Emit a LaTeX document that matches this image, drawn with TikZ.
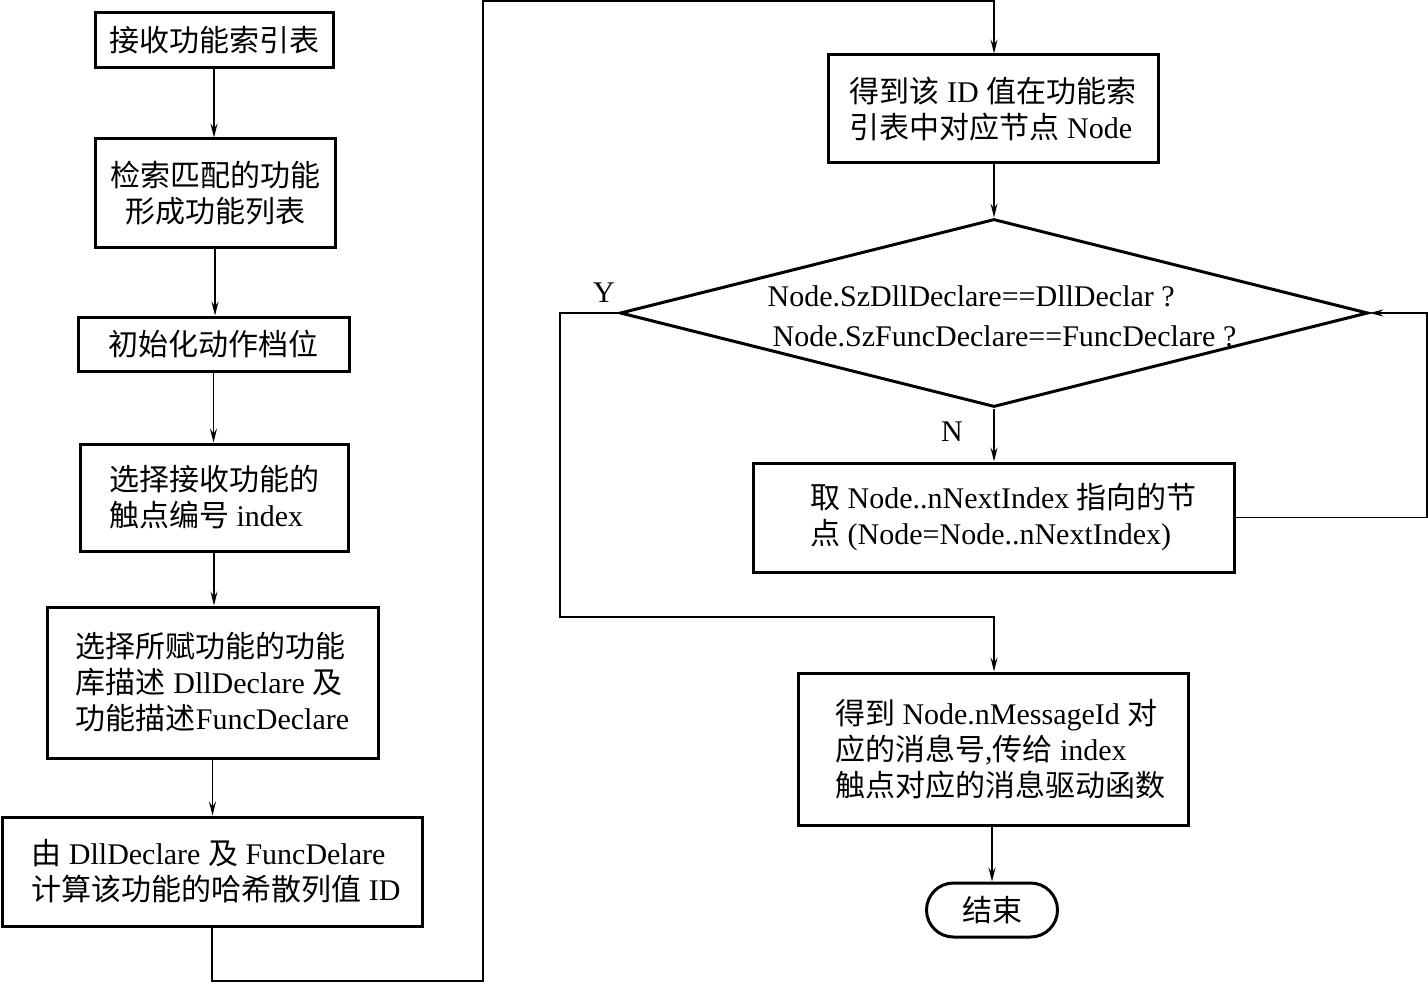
\documentclass[tikz,border=0pt]{standalone}
\usepackage{fontspec}
\setmainfont{Liberation Serif}
\newfontfamily\cjk{Noto Sans CJK SC}
\newcommand\zh[1]{{\cjk #1}}
\usetikzlibrary{shapes.geometric,arrows.meta}
\begin{document}
\begin{tikzpicture}[x=0.5pt,y=-0.5pt,
 box/.style={draw,line width=1.5pt,align=left,inner sep=0pt,font=\fontsize{15pt}{18pt}\selectfont},
 arr/.style={line width=0.75pt,-{Stealth[length=7pt,width=3.5pt,inset=2.5pt]}},
 ln/.style={line width=0.75pt},
 lbl/.style={inner sep=0pt,font=\fontsize{15pt}{18pt}\selectfont}]
\useasboundingbox (0,0) rectangle (1428,984);
\node[box,minimum width=119pt,minimum height=27.5pt] (b1) at (214,40.5) {\zh{接收功能索引表}};
\node[box,minimum width=120pt,minimum height=54pt,align=center] (b2) at (215,193) {\zh{检索匹配的功能}\\\zh{形成功能列表}};
\node[box,minimum width=135.5pt,minimum height=27pt] (b3) at (213.5,344) {\zh{初始化动作档位}};
\node[box,minimum width=134pt,minimum height=53.5pt] (b4) at (214,497.5) {\zh{选择接收功能的}\\\zh{触点编号} index};
\node[box,minimum width=165.5pt,minimum height=75.5pt] (b5) at (212.5,682.5) {\zh{选择所赋功能的功能}\\\zh{库描述} DllDeclare \zh{及}\\\zh{功能描述}FuncDeclare};
\node[box,minimum width=210pt,minimum height=54.5pt] (b6) at (212,871.5) {\hspace*{4pt}\zh{由} DllDeclare \zh{及} FuncDelare\\\hspace*{4pt}\zh{计算该功能的哈希散列值} ID};
\node[box,minimum width=165pt,minimum height=54pt] (b7) at (993,109) {\zh{得到该} ID \zh{值在功能索}\\\zh{引表中对应节点} Node};
\node[draw,line width=1.5pt,diamond,aspect=3.98,inner sep=0pt,minimum width=374pt,minimum height=94pt] (dia) at (994,313) {};
\node[lbl,align=left,font=\fontsize{15pt}{20pt}\selectfont] (diatext) at (1002,316) {Node.SzDllDeclare==DllDeclar ?\\\hspace*{2.5pt}Node.SzFuncDeclare==FuncDeclare ?};
\node[box,minimum width=240.5pt,minimum height=54.5pt] (b8) at (993.5,517.5) {\hspace*{10pt}\zh{取} Node..nNextIndex \zh{指向的节}\\\hspace*{10pt}\zh{点} (Node=Node..nNextIndex)};
\node[box,minimum width=195pt,minimum height=76pt] (b9) at (993,749) {\hspace*{7pt}\zh{得到} Node.nMessageId \zh{对}\\\hspace*{7pt}\zh{应的消息号},\zh{传给} index\\\hspace*{7pt}\zh{触点对应的消息驱动函数}};
\node[box,minimum width=65.5pt,minimum height=27pt,rounded corners=13.5pt] (end) at (992,910) {\zh{结束}};
\node[lbl] (ylab) at (604,293) {Y};
\node[lbl] (nlab) at (952,432) {N};
\coordinate (c1) at (483,981);
\coordinate (c2) at (483,1);
\coordinate (c3) at (1427,313);
\coordinate (c4) at (560,617);
\draw[arr] (b1.south) -- (b1.south |- b2.north);
\draw[arr] (b2.south) -- (b2.south |- b3.north);
\draw[arr] (b3.south) -- (b3.south |- b4.north);
\draw[arr] (b4.south) -- (b4.south |- b5.north);
\draw[arr] (b5.south) -- (b5.south |- b6.north);
\draw[arr] (b6.south) |- (c1) -- (c2) -| (dia.north |- b7.north);
\draw[arr] (b7.south -| dia.north) -- (dia.north);
\draw[arr] (dia.south) -- (dia.south |- b8.north);
\draw[arr] (b8.east) -| (c3) -- (dia.east);
\draw[arr] (dia.west) -| (c4) -| (dia.south |- b9.north);
\draw[arr] (b9.south -| end.north) -- (end.north);
\end{tikzpicture}
\end{document}
